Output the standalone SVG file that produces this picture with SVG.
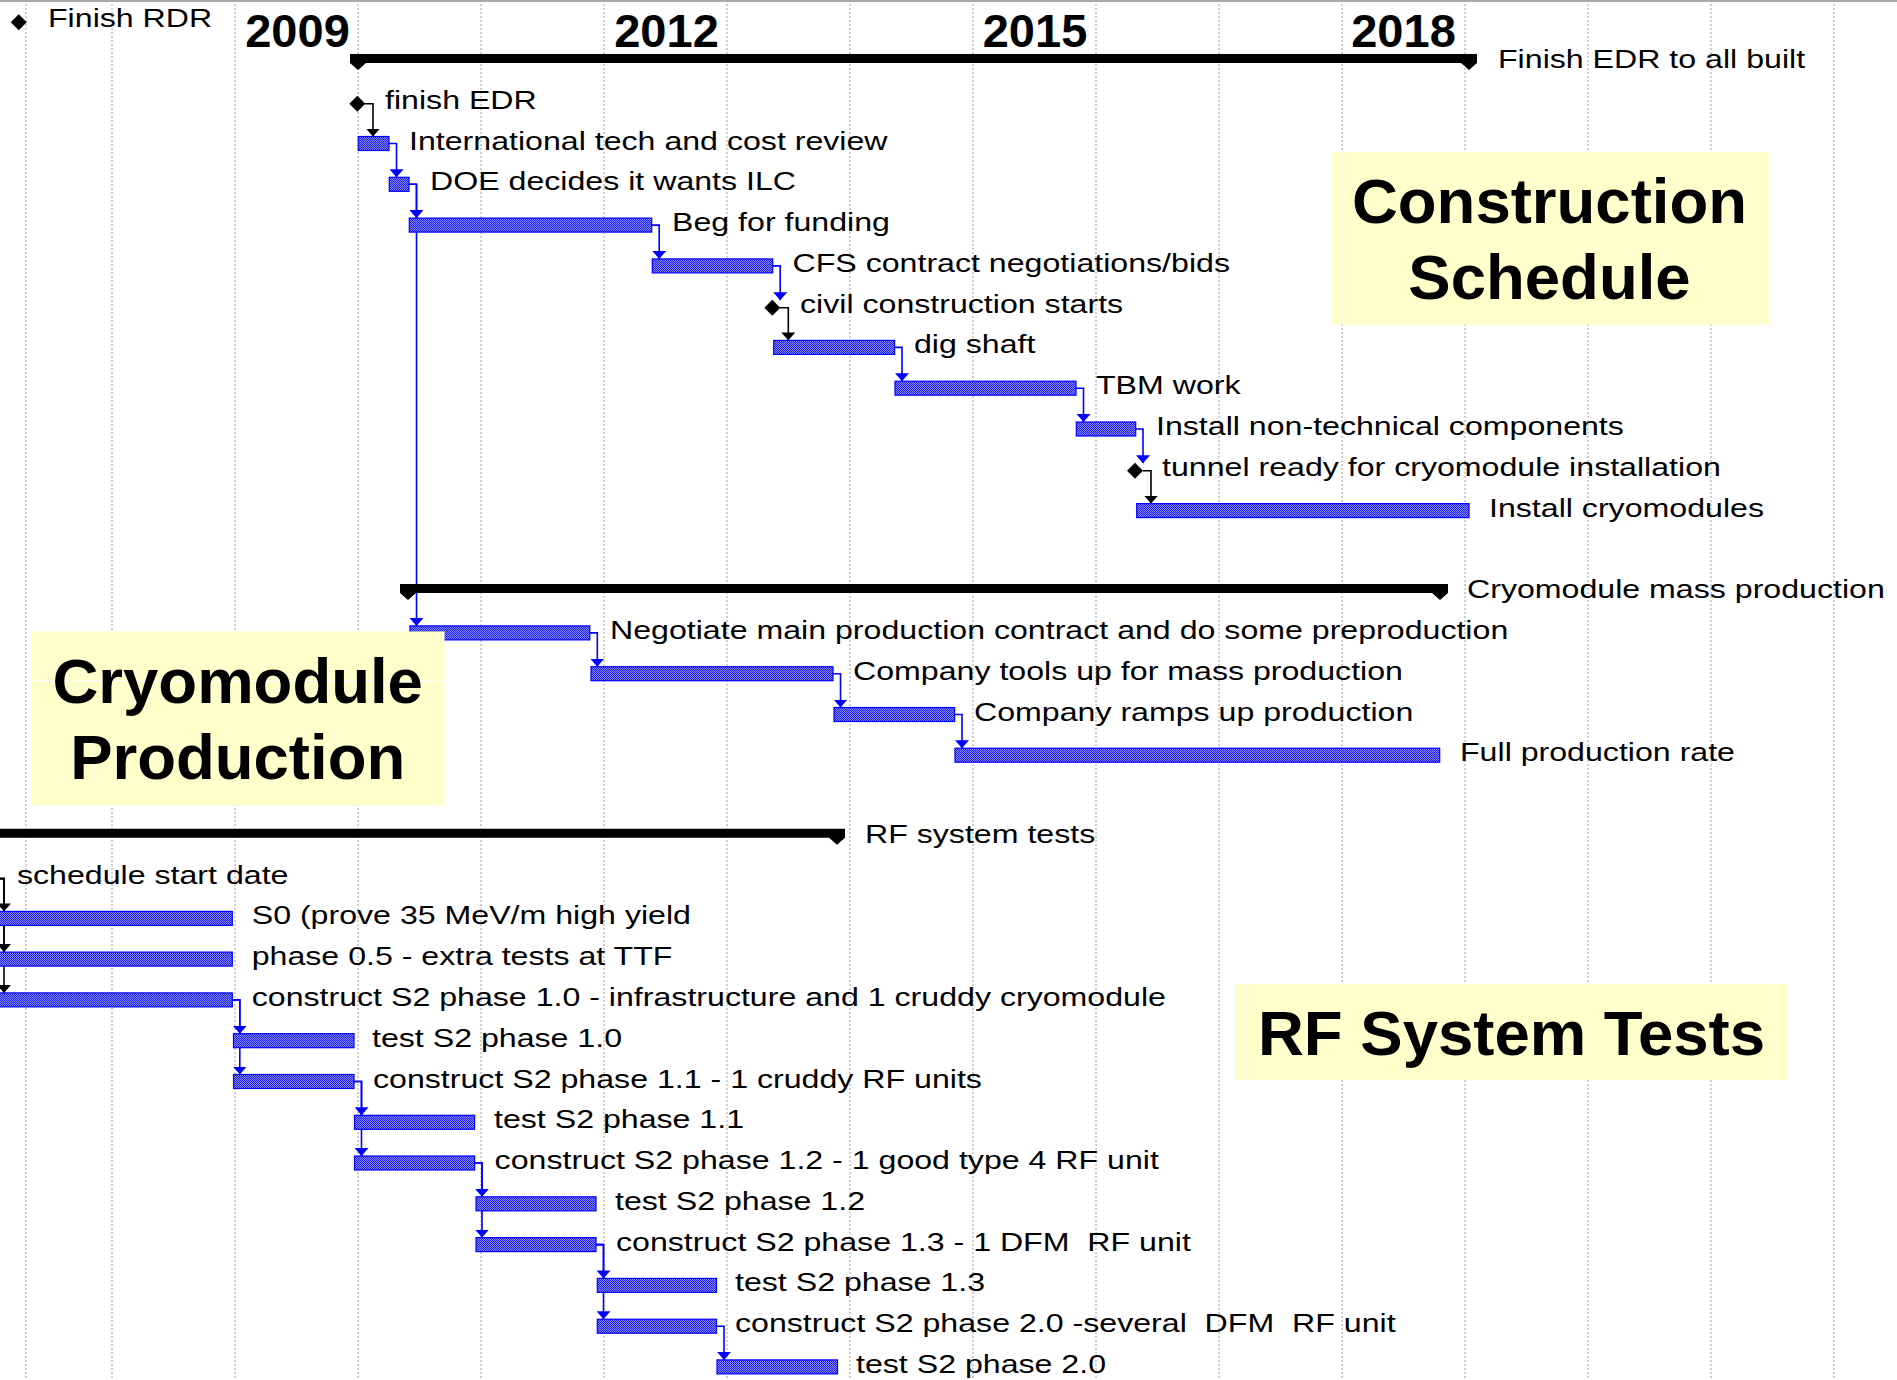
<svg xmlns="http://www.w3.org/2000/svg" width="1897" height="1380" viewBox="0 0 1897 1380">
  <defs>
    <pattern id="hatch" width="2" height="2" patternUnits="userSpaceOnUse">
      <rect width="2" height="2" fill="#8a8aff"/>
      <rect width="1" height="1" fill="#1e1ef5"/>
      <rect x="1" y="1" width="1" height="1" fill="#1e1ef5"/>
    </pattern>
    <marker id="ab" viewBox="0 -7 8 14" refX="8" refY="0" markerWidth="8" markerHeight="14" markerUnits="userSpaceOnUse" orient="auto">
      <path d="M0,-7 L8,0 L0,7 z" fill="#0000ff"/>
    </marker>
    <marker id="ak" viewBox="0 -7 8 14" refX="8" refY="0" markerWidth="8" markerHeight="14" markerUnits="userSpaceOnUse" orient="auto">
      <path d="M0,-7 L8,0 L0,7 z" fill="#000"/>
    </marker>
    <style>
      .grid { stroke:#a0a0a0; stroke-width:1; stroke-dasharray:2 2; }
      .bar { fill:url(#hatch); stroke:#0000ff; stroke-width:1.2; }
      .ms { fill:#000; }
      .sum { fill:#000; }
      .lbl { font-family:"Liberation Sans", Arial, sans-serif; font-size:25.5px; fill:#000; white-space:pre; }
      .yr { font-family:"Liberation Sans", Arial, sans-serif; font-size:47px; font-weight:bold; fill:#000; text-anchor:middle; }
      .box { fill:#ffffcc; }
      .ttl { font-family:"Liberation Sans", Arial, sans-serif; font-size:63.5px; font-weight:bold; fill:#000; text-anchor:middle; }
      .lb { fill:none; stroke:#0000ff; stroke-width:1.6; marker-end:url(#ab); }
      .lk { fill:none; stroke:#000; stroke-width:1.6; marker-end:url(#ak); }
    </style>
  </defs>

  <rect width="1897" height="1380" fill="#fff"/>

  <!-- timescale grid: one column per year -->
  <g id="grid">
    <line x1="0" y1="1" x2="1897" y2="1" stroke="#8c8c8c" stroke-width="1.5"/>
    <line class="grid" x1="26" y1="0" x2="26" y2="1380"/>
    <line class="grid" x1="112" y1="0" x2="112" y2="1380"/>
    <line class="grid" x1="235" y1="0" x2="235" y2="1380"/>
    <line class="grid" x1="358" y1="0" x2="358" y2="1380"/>
    <line class="grid" x1="481" y1="0" x2="481" y2="1380"/>
    <line class="grid" x1="604" y1="0" x2="604" y2="1380"/>
    <line class="grid" x1="727" y1="0" x2="727" y2="1380"/>
    <line class="grid" x1="850" y1="0" x2="850" y2="1380"/>
    <line class="grid" x1="973" y1="0" x2="973" y2="1380"/>
    <line class="grid" x1="1096" y1="0" x2="1096" y2="1380"/>
    <line class="grid" x1="1219" y1="0" x2="1219" y2="1380"/>
    <line class="grid" x1="1342" y1="0" x2="1342" y2="1380"/>
    <line class="grid" x1="1465" y1="0" x2="1465" y2="1380"/>
    <line class="grid" x1="1588" y1="0" x2="1588" y2="1380"/>
    <line class="grid" x1="1711" y1="0" x2="1711" y2="1380"/>
    <line class="grid" x1="1834" y1="0" x2="1834" y2="1380"/>
  </g>

  <!-- year headings -->
  <g id="years">
    <text class="yr" x="297.5" y="46.7">2009</text>
    <text class="yr" x="666.5" y="46.7">2012</text>
    <text class="yr" x="1035" y="46.7">2015</text>
    <text class="yr" x="1403.5" y="46.7">2018</text>
  </g>

  <!-- dependency links -->
  <g id="links">
    <path class="lk" d="M365,103.8 H373 V136.5"/>
    <path class="lb" d="M389,143.5 H396.5 V177.3"/>
    <path class="lb" d="M409,184.3 H416.5 V218.1"/>
    <path class="lb" d="M409,184.3 H416.5 V625.9"/>
    <path class="lb" d="M651.7,225.1 H659.2 V258.9"/>
    <path class="lb" d="M772.7,265.9 H780.2 V300.2"/>
    <path class="lk" d="M780,307.7 H788.3 V340.4"/>
    <path class="lb" d="M894.6,347.4 H902 V381.2"/>
    <path class="lb" d="M1076,388.2 H1083.5 V422"/>
    <path class="lb" d="M1135.7,429 H1143 V463.3"/>
    <path class="lk" d="M1143,470.8 H1151 V503.6"/>
    <path class="lb" d="M589.8,632.9 H597.3 V666.7"/>
    <path class="lb" d="M833,673.7 H840.5 V707.5"/>
    <path class="lb" d="M954.6,714.5 H962 V748.2"/>
    <path class="lk" d="M0,878.6 H4 V911.4"/>
    <path class="lk" d="M0,878.6 H4 V952.1"/>
    <path class="lk" d="M0,878.6 H4 V992.9"/>
    <path class="lb" d="M232.3,999.9 H239.8 V1033.7"/>
    <path class="lb" d="M232.3,999.9 H239.8 V1074.5"/>
    <path class="lb" d="M354,1081.5 H361.5 V1115.3"/>
    <path class="lb" d="M354,1081.5 H361.5 V1156"/>
    <path class="lb" d="M474.6,1163 H482 V1196.8"/>
    <path class="lb" d="M474.6,1163 H482 V1237.6"/>
    <path class="lb" d="M596,1244.6 H603.5 V1278.4"/>
    <path class="lb" d="M596,1244.6 H603.5 V1319.2"/>
    <path class="lb" d="M716.5,1326.2 H724 V1359.9"/>
  </g>

  <!-- milestones -->
  <g id="finish-rdr">
    <path class="ms" d="M18.75,14.2 L26.75,22.2 L18.75,30.2 L10.75,22.2 z"/>
    <text class="lbl" transform="matrix(1.26 0 0 1 48 27.2)">Finish RDR</text>
  </g>

  <!-- construction schedule -->
  <g id="finish-edr-to-all-built">
    <path class="sum" d="M350,54 H1477 V63 H350 z M350,63 H366 L358,70 z M1461,63 H1477 L1469,70 z"/>
    <text class="lbl" transform="matrix(1.26 0 0 1 1498 68)">Finish EDR to all built</text>
  </g>
  <g id="finish-edr">
    <path class="ms" d="M357.3,95.8 L365.3,103.8 L357.3,111.8 L349.3,103.8 z"/>
    <text class="lbl" transform="matrix(1.26 0 0 1 385 108.8)">finish EDR</text>
  </g>
  <g id="tech-cost-review">
    <rect class="bar" x="358.3" y="136.5" width="30.7" height="14"/>
    <text class="lbl" transform="matrix(1.26 0 0 1 409 149.5)">International tech and cost review</text>
  </g>
  <g id="doe-decides">
    <rect class="bar" x="389.3" y="177.3" width="19.7" height="14"/>
    <text class="lbl" transform="matrix(1.26 0 0 1 430 190.3)">DOE decides it wants ILC</text>
  </g>
  <g id="beg-for-funding">
    <rect class="bar" x="409.3" y="218.1" width="242.4" height="14"/>
    <text class="lbl" transform="matrix(1.26 0 0 1 672 231.1)">Beg for funding</text>
  </g>
  <g id="cfs-contract">
    <rect class="bar" x="652.3" y="258.9" width="120.4" height="14"/>
    <text class="lbl" transform="matrix(1.26 0 0 1 792.5 271.9)">CFS contract negotiations/bids</text>
  </g>
  <g id="civil-construction-starts">
    <path class="ms" d="M772.3,299.7 L780.3,307.7 L772.3,315.7 L764.3,307.7 z"/>
    <text class="lbl" transform="matrix(1.26 0 0 1 800 312.7)">civil construction starts</text>
  </g>
  <g id="dig-shaft">
    <rect class="bar" x="773.7" y="340.4" width="120.9" height="14"/>
    <text class="lbl" transform="matrix(1.26 0 0 1 914 353.4)">dig shaft</text>
  </g>
  <g id="tbm-work">
    <rect class="bar" x="895" y="381.2" width="181" height="14"/>
    <text class="lbl" transform="matrix(1.26 0 0 1 1096 394.2)">TBM work</text>
  </g>
  <g id="install-non-technical">
    <rect class="bar" x="1076.3" y="422" width="59.4" height="14"/>
    <text class="lbl" transform="matrix(1.26 0 0 1 1156 435)">Install non-technical components</text>
  </g>
  <g id="tunnel-ready">
    <path class="ms" d="M1135,462.8 L1143,470.8 L1135,478.8 L1127,470.8 z"/>
    <text class="lbl" transform="matrix(1.26 0 0 1 1162 475.8)">tunnel ready for cryomodule installation</text>
  </g>
  <g id="install-cryomodules">
    <rect class="bar" x="1136.7" y="503.6" width="332.3" height="14"/>
    <text class="lbl" transform="matrix(1.26 0 0 1 1489 516.6)">Install cryomodules</text>
  </g>

  <!-- cryomodule production -->
  <g id="cryomodule-mass-production">
    <path class="sum" d="M400,584.1 H1448 V593.1 H400 z M400,593.1 H416 L408,600.1 z M1432,593.1 H1448 L1440,600.1 z"/>
    <text class="lbl" transform="matrix(1.26 0 0 1 1467 598.1)">Cryomodule mass production</text>
  </g>
  <g id="negotiate-contract">
    <rect class="bar" x="410" y="625.9" width="179.8" height="14"/>
    <text class="lbl" transform="matrix(1.26 0 0 1 610 638.9)">Negotiate main production contract and do some preproduction</text>
  </g>
  <g id="company-tools-up">
    <rect class="bar" x="591" y="666.7" width="242" height="14"/>
    <text class="lbl" transform="matrix(1.26 0 0 1 853 679.7)">Company tools up for mass production</text>
  </g>
  <g id="company-ramps-up">
    <rect class="bar" x="834" y="707.5" width="120.6" height="14"/>
    <text class="lbl" transform="matrix(1.26 0 0 1 974 720.5)">Company ramps up production</text>
  </g>
  <g id="full-production-rate">
    <rect class="bar" x="955" y="748.2" width="484.7" height="14"/>
    <text class="lbl" transform="matrix(1.26 0 0 1 1460 761.2)">Full production rate</text>
  </g>

  <!-- RF system tests -->
  <g id="rf-system-tests">
    <path class="sum" d="M-10,828.8 H845 V837.8 H-10 z M829,837.8 H845 L837,844.8 z"/>
    <text class="lbl" transform="matrix(1.26 0 0 1 865 842.8)">RF system tests</text>
  </g>
  <g id="schedule-start-date">
    <text class="lbl" transform="matrix(1.26 0 0 1 17 883.6)">schedule start date</text>
  </g>
  <g id="s0">
    <rect class="bar" x="-2" y="911.4" width="234.3" height="14"/>
    <text class="lbl" transform="matrix(1.26 0 0 1 251.7 924.4)">S0 (prove 35 MeV/m high yield</text>
  </g>
  <g id="phase-0-5">
    <rect class="bar" x="-2" y="952.1" width="234.3" height="14"/>
    <text class="lbl" transform="matrix(1.26 0 0 1 251.7 965.1)">phase 0.5 - extra tests at TTF</text>
  </g>
  <g id="construct-1-0">
    <rect class="bar" x="-2" y="992.9" width="234.3" height="14"/>
    <text class="lbl" transform="matrix(1.26 0 0 1 251.7 1005.9)">construct S2 phase 1.0 - infrastructure and 1 cruddy cryomodule</text>
  </g>
  <g id="test-1-0">
    <rect class="bar" x="233.5" y="1033.7" width="120.5" height="14"/>
    <text class="lbl" transform="matrix(1.26 0 0 1 372 1046.7)">test S2 phase 1.0</text>
  </g>
  <g id="construct-1-1">
    <rect class="bar" x="233.5" y="1074.5" width="120.5" height="14"/>
    <text class="lbl" transform="matrix(1.26 0 0 1 373 1087.5)">construct S2 phase 1.1 - 1 cruddy RF units</text>
  </g>
  <g id="test-1-1">
    <rect class="bar" x="354.5" y="1115.3" width="120.1" height="14"/>
    <text class="lbl" transform="matrix(1.26 0 0 1 494 1128.3)">test S2 phase 1.1</text>
  </g>
  <g id="construct-1-2">
    <rect class="bar" x="354.5" y="1156" width="120.1" height="14"/>
    <text class="lbl" transform="matrix(1.26 0 0 1 494.6 1169)">construct S2 phase 1.2 - 1 good type 4 RF unit</text>
  </g>
  <g id="test-1-2">
    <rect class="bar" x="476" y="1196.8" width="120" height="14"/>
    <text class="lbl" transform="matrix(1.26 0 0 1 615 1209.8)">test S2 phase 1.2</text>
  </g>
  <g id="construct-1-3">
    <rect class="bar" x="476" y="1237.6" width="120" height="14"/>
    <text class="lbl" transform="matrix(1.26 0 0 1 616 1250.6)">construct S2 phase 1.3 - 1 DFM  RF unit</text>
  </g>
  <g id="test-1-3">
    <rect class="bar" x="597.3" y="1278.4" width="119.2" height="14"/>
    <text class="lbl" transform="matrix(1.26 0 0 1 735 1291.4)">test S2 phase 1.3</text>
  </g>
  <g id="construct-2-0">
    <rect class="bar" x="597.3" y="1319.2" width="119.2" height="14"/>
    <text class="lbl" transform="matrix(1.26 0 0 1 735 1332.2)">construct S2 phase 2.0 -several  DFM  RF unit</text>
  </g>
  <g id="test-2-0">
    <rect class="bar" x="717" y="1359.9" width="120.5" height="14"/>
    <text class="lbl" transform="matrix(1.26 0 0 1 856 1372.9)">test S2 phase 2.0</text>
  </g>

  <!-- section callouts -->
  <g id="title-construction">
    <rect class="box" x="1331.5" y="152" width="437.5" height="172.5"/>
    <text class="ttl" x="1549.5" y="223.3">Construction</text>
    <text class="ttl" x="1549.5" y="299.3">Schedule</text>
  </g>
  <g id="title-cryomodule">
    <rect class="box" x="31.5" y="631.5" width="413" height="174"/>
    <line x1="31.5" y1="680.5" x2="444.5" y2="680.5" stroke="#fff" stroke-width="1"/>
    <text class="ttl" x="237.7" y="702.7">Cryomodule</text>
    <text class="ttl" x="237.7" y="779.3">Production</text>
  </g>
  <g id="title-rf">
    <rect class="box" x="1235" y="984" width="553" height="96"/>
    <text class="ttl" x="1511.5" y="1055">RF System Tests</text>
  </g>
</svg>
